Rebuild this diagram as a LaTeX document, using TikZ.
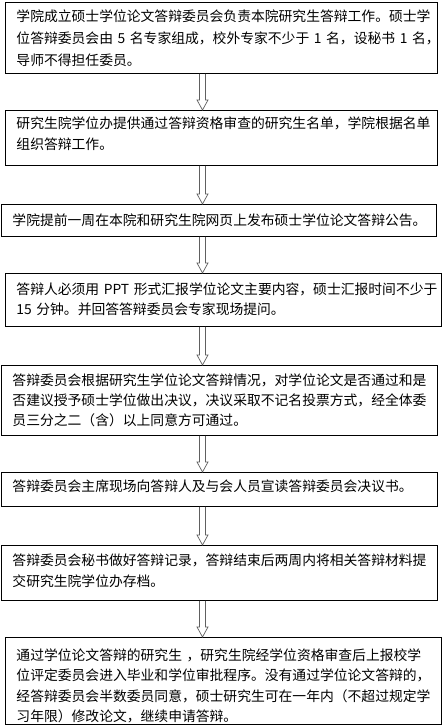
\documentclass[tikz,border=0pt]{standalone}
\usepackage{fontspec}
\newfontfamily\cjk{Noto Sans CJK SC}
\usetikzlibrary{calc}
\tikzset{
  box/.style={draw=black, line width=0.9pt, anchor=north west,
    inner xsep=11pt, inner ysep=0pt, align=left},
  lsk/.style={font=\cjk\fontsize{13.8}{#1}\selectfont},
  harrow/.style={draw=gray!75!black, line width=0.7pt, line join=miter},
}
\newcommand\hollowarrow[2]{%
  \draw[harrow] let \p1=(#1.south), \p2=(#2.north) in
    (199.5pt,\y1) -- (199.5pt,\y2+10pt) -- (197pt,\y2+10pt) -- (202.5pt,\y2)
    -- (208pt,\y2+10pt) -- (205.5pt,\y2+10pt) -- (205.5pt,\y1);}
\begin{document}
\begin{tikzpicture}[x=1pt,y=1pt]
\useasboundingbox (0,0) rectangle (442,-727);
\fill[white] (0,0) rectangle (442,-727);

\node[box, lsk=22pt, text width=410pt, minimum height=71pt, text height=19pt, text depth=52pt] (b1) at (5,-2)
 {学院成立硕士学位论文答辩委员会负责本院研究生答辩工作。硕士学\\
  位答辩委员会由~5~名专家组成，校外专家不少于~1~名，设秘书~1~名，\\
  导师不得担任委员。};

\node[box, lsk=21pt, text width=410pt, minimum height=55pt, text height=18pt, text depth=37pt] (b2) at (5,-110)
 {研究生院学位办提供通过答辩资格审查的研究生名单，学院根据名单\\
  组织答辩工作。};

\node[box, lsk=21pt, text width=413pt, minimum height=32pt, text height=21pt, text depth=11pt] (b3) at (1,-204)
 {学院提前一周在本院和研究生院网页上发布硕士学位论文答辩公告。};

\node[box, lsk=20pt, text width=414pt, minimum height=53pt, text height=21pt, text depth=32pt] (b4) at (5,-273)
 {答辩人必须用~PPT~形式汇报学位论文主要内容，硕士汇报时间不少于\\
  15~分钟。并回答答辩委员会专家现场提问。};

\node[box, lsk=20pt, text width=414pt, minimum height=70pt, text height=20pt, text depth=50pt] (b5) at (1,-365)
 {答辩委员会根据研究生学位论文答辩情况，对学位论文是否通过和是\\
  否建议授予硕士学位做出决议，决议采取不记名投票方式，经全体委\\
  员三分之二（含）以上同意方可通过。};

\node[box, lsk=20pt, text width=414pt, minimum height=34pt, text height=19pt, text depth=15pt] (b6) at (1,-472)
 {答辩委员会主席现场向答辩人及与会人员宣读答辩委员会决议书。};

\node[box, lsk=21pt, text width=414pt, minimum height=55pt, text height=20pt, text depth=35pt] (b7) at (1,-545)
 {答辩委员会秘书做好答辩记录，答辩结束后两周内将相关答辩材料提\\
  交研究生院学位办存档。};

\node[box, lsk=20.3pt, text width=414pt, minimum height=87pt, text height=23pt, text depth=64pt] (b8) at (5,-637)
 {通过学位论文答辩的研究生~，研究生院经学位资格审查后上报校学\\
  位评定委员会进入毕业和学位审批程序。没有通过学位论文答辩的，\\
  经答辩委员会半数委员同意，硕士研究生可在一年内（不超过规定学\\
  习年限）修改论文，继续申请答辩。};

\hollowarrow{b1}{b2}
\hollowarrow{b2}{b3}
\hollowarrow{b3}{b4}
\hollowarrow{b4}{b5}
\hollowarrow{b5}{b6}
\hollowarrow{b6}{b7}
\hollowarrow{b7}{b8}
\end{tikzpicture}
\end{document}
